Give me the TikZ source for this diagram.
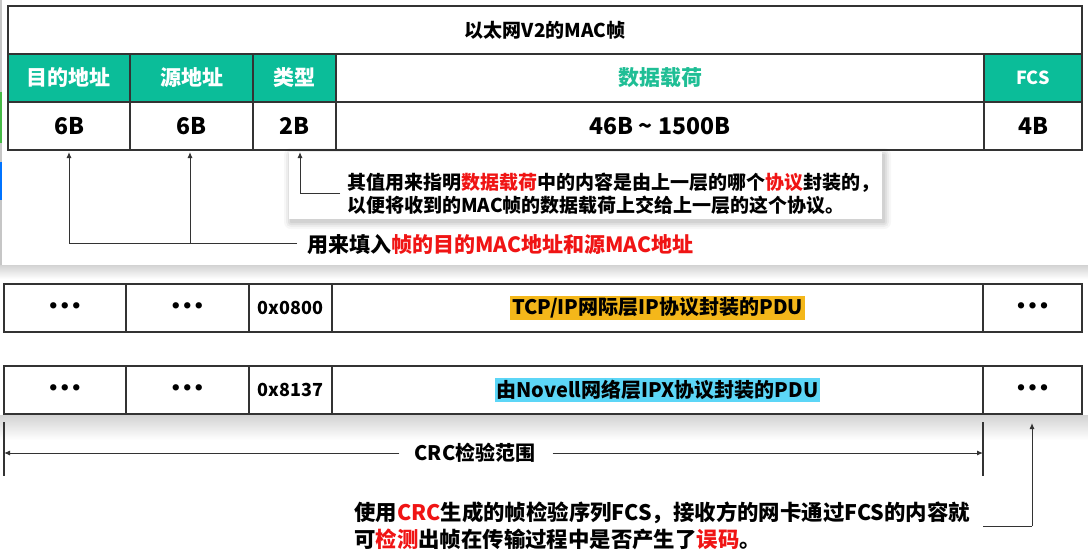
\documentclass[tikz,border=0pt]{standalone}
\usepackage{fontspec}
\setmainfont{Noto Sans CJK SC}
\newfontfamily\dvfont{DejaVu Sans}
\usetikzlibrary{arrows.meta,calc}
\definecolor{teal1}{HTML}{0BBD99}
\definecolor{tealtxt}{HTML}{1FBE95}
\definecolor{red1}{HTML}{F01414}
\definecolor{org}{HTML}{F4B71A}
\definecolor{cyn}{HTML}{5CD6F7}
\definecolor{ln}{HTML}{333333}
\newcommand\fs[1]{\fontsize{#1}{#1}\selectfont}
\newcommand\cellat[6]{\node[#6, anchor=north west, minimum width=#4pt-#2pt, minimum height=#5pt-#3pt] (#1) at (#2,#3)}
\begin{document}
\begin{tikzpicture}[x=1pt,y=-1pt,
  cellbox/.style={draw=ln, line width=1.3pt, inner sep=0pt, outer sep=0pt, font=\bfseries},
  hdr/.style={cellbox, fill=teal1, text=white},
  conn/.style={draw=ln, line width=1pt},
  arr/.style={conn, -{Latex[length=6pt,width=5pt]}},
  dots/.style={font=\dvfont\bfseries\fs{18}},
  hl/.style={inner sep=2pt, font=\bfseries\fs{20}, text=black}
]
\useasboundingbox (0,0) rectangle (1088,558);
\fill[white] (0,0) rectangle (1088,558);
% slide shadows and edge strip
\shade[top color=gray!35, bottom color=white] (0,265) rectangle (1088,279);
\shade[top color=gray!35, bottom color=white] (0,415) rectangle (1088,440);
\fill[gray!45] (0,0) rectangle (2,265);
\fill[green!45!gray] (0,92) rectangle (2,143);
\fill[blue!55!cyan] (0,162) rectangle (2,200);

% top table
\cellat{title}{8}{6}{1082}{54}{cellbox} {\fs{19}以太网V2的MAC帧};
\cellat{h1}{8}{54}{130}{102}{hdr} {\fs{21}目的地址};
\cellat{h2}{130}{54}{253}{102}{hdr} {\fs{21}源地址};
\cellat{h3}{253}{54}{336}{102}{hdr} {\fs{21}类型};
\cellat{h4}{336}{54}{984}{102}{cellbox, text=tealtxt} {\fs{21}数据载荷};
\cellat{h5}{984}{54}{1082}{102}{hdr} {\fs{18}FCS};
\cellat{v1}{8}{102}{130}{150}{cellbox} {\fs{23}6B};
\cellat{v2}{130}{102}{253}{150}{cellbox} {\fs{23}6B};
\cellat{v3}{253}{102}{336}{150}{cellbox} {\fs{23}2B};
\cellat{v4}{336}{102}{984}{150}{cellbox} {\fs{23}46B \textasciitilde{} 1500B};
\cellat{v5}{984}{102}{1082}{150}{cellbox} {\fs{23}4B};

% callout box
\foreach \i/\o in {7/0.03,5/0.04,3/0.05,1/0.06}
  \fill[black, opacity=\o, rounded corners=\i pt] (289-\i+2,152-\i+3) rectangle (882+\i+2,219+\i+3);
\fill[white] (289,152) rectangle (882,219);
\node[anchor=west, align=left, inner sep=0pt, font=\bfseries\fontsize{19}{23}\selectfont] (ctext) at (347,194)
  {其值用来指明\textcolor{red1}{数据载荷}中的内容是由上一层的哪个\textcolor{red1}{协议}封装的，\\
   以便将收到的MAC帧的数据载荷上交给上一层的这个协议。};
\coordinate (p3) at (300,193);
\draw[conn] ($(ctext.west)+(-7,-1)$) -- (p3);
\draw[arr, shorten >=2pt] (p3) -- (v3.south -| p3);

% addresses note
\node[anchor=west, inner sep=0pt, font=\bfseries\fs{21}] (fl) at (307,245)
  {用来填入\textcolor{red1}{帧的目的MAC地址和源MAC地址}};
\coordinate (a1) at (69,243);
\coordinate (a2) at (190,243);
\draw[conn] ($(fl.west)+(-10,-2)$) -- (a1);
\draw[arr, shorten >=2pt] (a1) -- (v1.south -| a1);
\draw[arr, shorten >=2pt] (a2) -- (v2.south -| a2);

% row 1
\cellat{ra1}{4}{284}{126}{332}{cellbox} {};
\node[dots] at (ra1) {•••};
\cellat{ra2}{126}{284}{249}{332}{cellbox} {};
\node[dots] at (ra2) {•••};
\cellat{ra3}{249}{284}{332}{332}{cellbox} {\fs{18}0x0800};
\cellat{ra4}{332}{284}{983}{332}{cellbox} {};
\node[hl, fill=org] (pa) at (ra4) {TCP/IP网际层IP协议封装的PDU};
\cellat{ra5}{983}{284}{1082}{332}{cellbox} {};
\node[dots] at (ra5) {•••};

% row 2
\cellat{rb1}{4}{366}{126}{414}{cellbox} {};
\node[dots] at (rb1) {•••};
\cellat{rb2}{126}{366}{249}{414}{cellbox} {};
\node[dots] at (rb2) {•••};
\cellat{rb3}{249}{366}{332}{414}{cellbox} {\fs{18}0x8137};
\cellat{rb4}{332}{366}{983}{414}{cellbox} {};
\node[hl, fill=cyn] (pb) at (rb4) {由Novell网络层IPX协议封装的PDU};
\cellat{rb5}{983}{366}{1082}{414}{cellbox} {};
\node[dots] at (rb5) {•••};

% CRC range
\coordinate (L1) at (4,422); \coordinate (L2) at (4,476);
\coordinate (R1) at (983,422); \coordinate (R2) at (983,476);
\draw[ln, line width=2.5pt] (L1) -- (L2);
\draw[ln, line width=2.5pt] (R1) -- (R2);
\node[font=\bfseries\fs{20}, inner sep=0pt] (crc) at (475,453) {CRC检验范围};
\draw[arr] ($(crc.west)+(-15,0)$) -- (crc -| L1);
\draw[arr] ($(crc.east)+(17,0)$) -- (crc -| R1);

% FCS note
\node[anchor=west, align=left, inner sep=0pt, font=\bfseries\fontsize{21.4}{27}\selectfont] (bt) at (354,526)
  {使用\textcolor{red1}{CRC}生成的帧检验序列FCS，接收方的网卡通过FCS的内容就\\
   可\textcolor{red1}{检测}出帧在传输过程中是否产生了\textcolor{red1}{误码}。};
\coordinate (f0) at (983,526);
\coordinate (f1) at (1032,526);
\draw[conn] (f0) -- (f1);
\draw[arr, shorten >=9pt] (f1) -- (rb5.south -| f1);
\end{tikzpicture}
\end{document}
